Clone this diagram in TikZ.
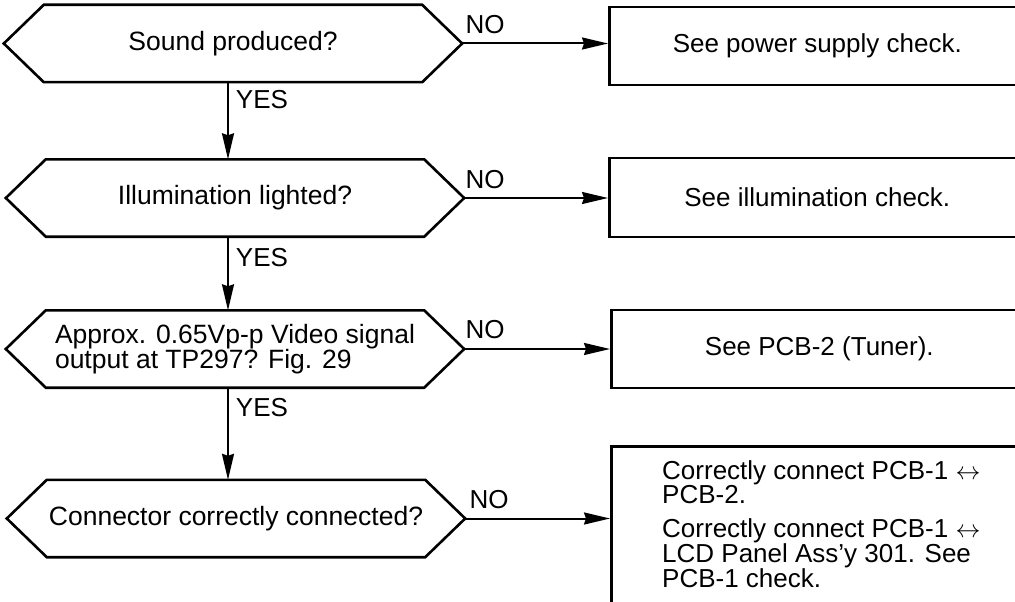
\documentclass[tikz,border=0pt]{standalone}
\usepackage{fontspec}
\setmainfont{Liberation Sans}
\usetikzlibrary{arrows.meta,calc}
\newcommand\drawhex[1]{\draw[hexline] (#1.west) -- ([xshift=40pt]#1.north west) -- ([xshift=-40pt]#1.north east) -- (#1.east) -- ([xshift=-40pt]#1.south east) -- ([xshift=40pt]#1.south west) -- cycle;}
\begin{document}
\begin{tikzpicture}[x=1pt,y=-1pt,
 lbl/.style={font=\fontsize{26}{24}\selectfont, inner sep=0pt},
 qtext/.style={font=\fontsize{26.5}{25}\selectfont, inner sep=0pt, align=left, minimum width=458pt, minimum height=77pt},
 boxnode/.style={draw, line width=2.6pt, minimum width=416pt, minimum height=78pt, inner sep=0pt, font=\fontsize{26}{24}\selectfont},
 arr/.style={line width=2pt, -{Stealth[length=26pt,width=12pt,inset=2pt]}},
 hexline/.style={line width=2.6pt, line join=miter}]
\useasboundingbox (0,0) rectangle (1015,602);
\clip (0,0) rectangle (1015,602);
\fill[white] (0,0) rectangle (1015,602);

% questions
\node[qtext] (q1) at (233,43.5) {Sound produced?};
\node[qtext] (q2) at (235,198) {Illumination lighted?};
\node[qtext] (q3) at (235,349) {Approx. 0.65Vp-p Video signal\\output at TP297? Fig. 29};
\node[qtext] (q4) at (236,518.5) {Connector correctly connected?};
\drawhex{q1}
\drawhex{q2}
\drawhex{q3}
\drawhex{q4}

% result boxes
\node[boxnode, anchor=west] (b1) at (608,46) {See power supply check.};
\node[boxnode, anchor=west, minimum height=79pt] (b2) at (608,197.5) {See illumination check.};
\node[boxnode, anchor=west] (b3) at (610,349) {See PCB-2 (Tuner).};
\node[boxnode, anchor=north west, minimum height=200pt] (b4) at (610,445) {};
\node[lbl, anchor=north west, align=left] (b4t) at (662,460)
 {Correctly connect PCB-1 $\leftrightarrow$\\PCB-2.\\[10pt]Correctly connect PCB-1 $\leftrightarrow$\\LCD Panel Ass'y 301. See\\PCB-1 check.};

% NO connectors
\draw[arr] (q1.east) -- (q1.east -| b1.west);
\draw[arr] (q2.east) -- (q2.east -| b2.west);
\draw[arr] (q3.east) -- (q3.east -| b3.west);
\draw[arr] (q4.east) -- (q4.east -| b4.west);
\node[lbl] (n1) at (485,25) {NO};
\node[lbl] (n2) at (485,180) {NO};
\node[lbl] (n3) at (485,330) {NO};
\node[lbl] (n4) at (489,500) {NO};

% YES connectors
\draw[arr] ([xshift=-5pt]q1.south) -- ([xshift=-5pt]q1.south |- q2.north);
\draw[arr] ([xshift=-7pt]q2.south) -- ([xshift=-7pt]q2.south |- q3.north);
\draw[arr] ([xshift=-7pt]q3.south) -- ([xshift=-7pt]q3.south |- q4.north);
\node[lbl] (y1) at (262,100) {YES};
\node[lbl] (y2) at (262,258) {YES};
\node[lbl] (y3) at (262,408) {YES};
\end{tikzpicture}
\end{document}
